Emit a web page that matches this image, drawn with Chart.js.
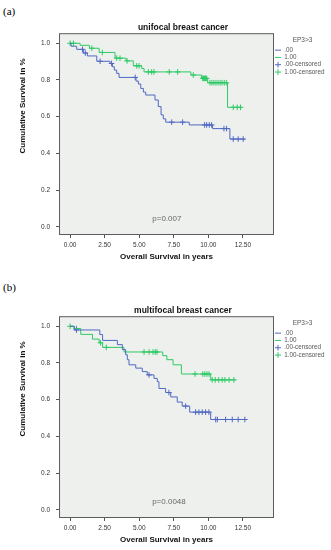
<!DOCTYPE html>
<html>
<head>
<meta charset="utf-8">
<script src="https://cdn.jsdelivr.net/npm/chart.js@4.4.1/dist/chart.umd.min.js"></script>
<style>
  body { margin: 0; background: #fff; }
  #wrap { position: relative; width: 331px; height: 550px; }
  canvas { position: absolute; left: 0; }
  .lbl { position: absolute; left: 3px; font: 11px "Liberation Serif", "Times New Roman", serif; color: #000; }
</style>
</head>
<body>
<div id="wrap">
  <div class="lbl" style="top:5px">(a)</div>
  <canvas id="chartA" width="331" height="267" style="top:0"></canvas>
  <div class="lbl" style="top:281px">(b)</div>
  <canvas id="chartB" width="331" height="267" style="top:283px"></canvas>
</div>
<script>
// survival steps (time in years, cumulative survival)
const uniLowTimes = [0, 0.07, 0.48, 0.96, 1.25, 1.93, 2.89, 3.06, 3.20, 3.37, 3.54, 4.77, 4.94, 5.11, 5.30, 5.47, 6.14, 6.38, 6.58, 6.74, 6.92, 8.62, 10.31, 11.56, 12.64];
const uniLowSurv = [1.0, 0.984, 0.967, 0.947, 0.931, 0.902, 0.89, 0.872, 0.854, 0.836, 0.814, 0.794, 0.778, 0.754, 0.734, 0.718, 0.691, 0.655, 0.61, 0.588, 0.57, 0.555, 0.535, 0.478, 0.478];
const uniLowCensored = [0.9, 1.1, 2.17, 3.0, 4.71, 7.35, 8.14, 9.73, 9.88, 10.07, 10.24, 11.13, 11.32, 11.80, 12.16, 12.52];

const uniHighTimes = [0, 0.72, 1.40, 2.10, 3.25, 4.05, 4.57, 5.18, 5.35, 8.74, 9.51, 9.95, 11.39, 12.41];
const uniHighSurv = [1.0, 0.989, 0.973, 0.95, 0.919, 0.904, 0.877, 0.863, 0.844, 0.827, 0.809, 0.785, 0.651, 0.651];
const uniHighCensored = [0.0, 0.24, 1.57, 2.33, 3.37, 3.61, 4.12, 4.82, 4.99, 5.66, 5.90, 6.07, 7.17, 7.78, 8.91, 9.59, 9.66, 9.73, 9.80, 9.88, 10.12, 10.26, 10.4, 10.55, 10.7, 10.85, 10.99, 11.15, 11.3, 11.80, 12.09, 12.33];

const multiLowTimes = [0, 0.3, 2.15, 2.35, 3.42, 3.78, 4.02, 4.14, 4.26, 4.75, 5.22, 5.58, 6.07, 6.31, 6.43, 6.91, 7.28, 7.75, 8.11, 8.65, 10.17, 12.69];
const multiLowSurv = [1.0, 0.98, 0.955, 0.923, 0.9, 0.873, 0.845, 0.818, 0.79, 0.772, 0.753, 0.735, 0.716, 0.698, 0.661, 0.639, 0.615, 0.587, 0.565, 0.532, 0.492, 0.492];
const multiLowCensored = [0.46, 5.71, 7.15, 8.36, 9.08, 9.32, 9.56, 9.80, 10.04, 10.53, 10.65, 11.25, 11.73, 12.16, 12.64];

const multiHighTimes = [0, 0.29, 0.77, 1.62, 2.1, 2.35, 3.9, 6.7, 7.0, 7.45, 8.05, 10.17, 11.95];
const multiHighSurv = [1.0, 0.988, 0.956, 0.93, 0.91, 0.885, 0.86, 0.84, 0.818, 0.79, 0.74, 0.708, 0.708];
const multiHighCensored = [0.0, 0.46, 2.2, 2.62, 5.35, 5.71, 6.0, 6.16, 6.28, 9.04, 9.6, 9.75, 9.9, 10.05, 10.28, 10.5, 10.75, 11.0, 11.2, 11.5, 11.85];

const groupLabels = ['.00', '1.00', '.00-censored', '1.00-censored'];
const xTicks = [0, 2.5, 5, 7.5, 10, 12.5];
const yTicks = [0, 0.2, 0.4, 0.6, 0.8, 1.0];

const BLUE = '#5068c2';
const GREEN = '#2fc965';
Chart.defaults.font.family = '"Liberation Sans", Arial, sans-serif';

function survAt(times, surv, t) {
    let s = surv[0];
    for (let i = 0; i < times.length; i++) {
        if (times[i] <= t) s = surv[i];
    }
    return s;
}

function stepData(times, surv) {
    return times.map((t, i) => ({x: t, y: surv[i]}));
}

function censorData(times, surv, cens) {
    return cens.map(t => ({x: t, y: survAt(times, surv, t)}));
}

// plot background, frame, rotated y title and p value
const plotDecor = {
    id: 'plotDecor',
    beforeDraw(chart) {
        const a = chart.chartArea, ctx = chart.ctx;
        ctx.save();
        ctx.fillStyle = '#eef0ee';
        ctx.fillRect(a.left, a.top, a.right - a.left, a.bottom - a.top);
        ctx.restore();
    },
    afterDraw(chart, args, opts) {
        const a = chart.chartArea, ctx = chart.ctx;
        ctx.save();
        ctx.strokeStyle = '#5c5c5c';
        ctx.lineWidth = 1;
        ctx.strokeRect(a.left + 0.5, a.top + 0.5, a.right - a.left - 1, a.bottom - a.top - 1);

        ctx.fillStyle = '#666';
        ctx.font = '8px "Liberation Sans", Arial, sans-serif';
        ctx.textAlign = 'center';
        ctx.textBaseline = 'middle';
        ctx.fillText(opts.pText, chart.scales.x.getPixelForValue(opts.pX), chart.scales.y.getPixelForValue(opts.pY));

        ctx.fillStyle = '#111';
        ctx.font = 'bold 8px "Liberation Sans", Arial, sans-serif';
        ctx.translate(23, a.top + (a.bottom - a.top) * 0.36);
        ctx.rotate(-Math.PI / 2);
        ctx.fillText('Cumulative Survival in %', 0, 0);
        ctx.restore();
    }
};

function makeChart(id, title, lowT, lowS, lowC, highT, highS, highC, pText, pX) {
    const datasets = [
        {label: groupLabels[0], data: stepData(lowT, lowS), stepped: true, borderColor: BLUE, borderWidth: 1, pointRadius: 0, pointStyle: 'line', fill: false},
        {label: groupLabels[1], data: stepData(highT, highS), stepped: true, borderColor: GREEN, borderWidth: 1, pointRadius: 0, pointStyle: 'line', fill: false},
        {label: groupLabels[2], data: censorData(lowT, lowS, lowC), showLine: false, borderColor: BLUE, backgroundColor: BLUE, pointStyle: 'cross', pointRadius: 2.8, pointBorderWidth: 1},
        {label: groupLabels[3], data: censorData(highT, highS, highC), showLine: false, borderColor: GREEN, backgroundColor: GREEN, pointStyle: 'cross', pointRadius: 2.8, pointBorderWidth: 1}
    ];

    return new Chart(document.getElementById(id), {
        type: 'line',
        data: {datasets: datasets},
        options: {
            responsive: false,
            animation: false,
            layout: {padding: {left: 35, right: 0, top: 0, bottom: 2}},
            plugins: {
                title: {
                    display: true, text: title, color: '#111',
                    font: {size: 8.5, weight: 'bold'},
                    padding: {top: 23, bottom: 0}
                },
                legend: {
                    position: 'right', align: 'start', fullSize: false, maxWidth: 57,
                    title: {display: true, text: 'EP3>3', color: '#555', font: {size: 6.5}, padding: {top: 4, bottom: 1}},
                    labels: {usePointStyle: true, pointStyleWidth: 6, boxHeight: 4, padding: 1, color: '#555', font: {size: 6.3}}
                },
                tooltip: {enabled: false},
                plotDecor: {pText: pText, pX: pX, pY: 0.045}
            },
            scales: {
                x: {
                    type: 'linear', min: -0.8, max: 14.75,
                    afterBuildTicks: s => { s.ticks = xTicks.map(v => ({value: v})); },
                    afterFit: s => { s.height = 30; },
                    ticks: {callback: v => v.toFixed(2), color: '#333', font: {size: 6.5}, padding: 3, maxRotation: 0},
                    grid: {drawOnChartArea: false, tickLength: 3, color: '#555'},
                    border: {display: false},
                    title: {display: true, text: 'Overall Survival in years', color: '#111', font: {size: 8, weight: 'bold'}, padding: {top: 0, bottom: 3}}
                },
                y: {
                    type: 'linear', min: -0.045, max: 1.055,
                    afterBuildTicks: s => { s.ticks = yTicks.map(v => ({value: v})); },
                    ticks: {callback: v => v.toFixed(1), color: '#333', font: {size: 6.5}, padding: 6},
                    grid: {drawOnChartArea: false, tickLength: 3, color: '#555'},
                    border: {display: false}
                }
            }
        },
        plugins: [plotDecor]
    });
}

makeChart('chartA', 'unifocal breast cancer', uniLowTimes, uniLowSurv, uniLowCensored, uniHighTimes, uniHighSurv, uniHighCensored, 'p=0.007', 7.0);
makeChart('chartB', 'multifocal breast cancer', multiLowTimes, multiLowSurv, multiLowCensored, multiHighTimes, multiHighSurv, multiHighCensored, 'p=0.0048', 7.15);
</script>
</body>
</html>
